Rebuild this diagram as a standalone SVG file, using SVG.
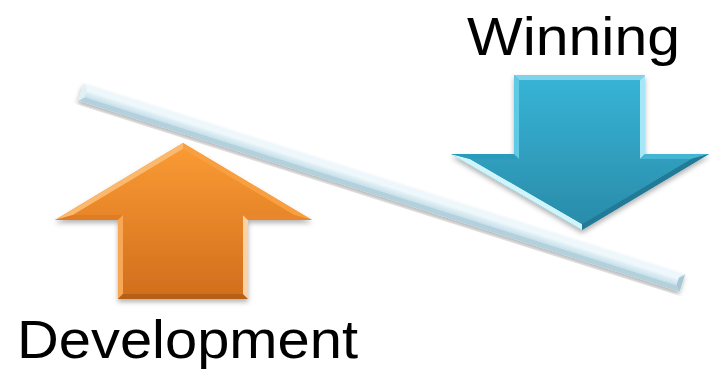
<svg xmlns="http://www.w3.org/2000/svg" width="714" height="371" viewBox="0 0 714 371">
  <defs>
    <filter id="shadow" x="-10%" y="-10%" width="120%" height="130%">
      <feDropShadow dx="0" dy="3" stdDeviation="2.5" flood-color="#000" flood-opacity="0.3"/>
    </filter>
    <linearGradient id="orangeFace" x1="0" y1="0" x2="0" y2="1">
      <stop offset="0" stop-color="#F99A33"/>
      <stop offset="1" stop-color="#D26F1E"/>
    </linearGradient>
    <linearGradient id="blueFace" x1="0" y1="0" x2="0" y2="1">
      <stop offset="0" stop-color="#37B3D5"/>
      <stop offset="1" stop-color="#2A8CAA"/>
    </linearGradient>
    <linearGradient id="barFace" x1="0" y1="0" x2="0" y2="1">
      <stop offset="0" stop-color="#F4FAFD"/>
      <stop offset="0.45" stop-color="#DCEDF4"/>
      <stop offset="1" stop-color="#C8E0EA"/>
    </linearGradient>
  </defs>
  <style>
    .label { font-family: "Liberation Sans", "Open Sans", sans-serif; font-size: 54px; fill: #000; }
  </style>

  <!-- seesaw beam -->
  <g id="beam" filter="url(#shadow)" transform="translate(81,92) rotate(17.63)">
    <rect x="0" y="-9" width="631" height="18" fill="#C9E0EA"/>
    <polygon points="0,-9 631,-9 626,-4 5,-4" fill="#EEF7FB"/>
    <polygon points="0,9 631,9 626,4 5,4" fill="#B3D0DD"/>
    <polygon points="0,-9 5,-4 5,4 0,9" fill="#E2F0F6"/>
    <polygon points="631,-9 626,-4 626,4 631,9" fill="#A8C7D5"/>
    <rect x="5" y="-4" width="621" height="8" fill="url(#barFace)"/>
  </g>

  <!-- up arrow -->
  <g id="arrow-development" filter="url(#shadow)">
    <polygon points="183,143 312,220 248,220 248,299 118,299 118,220 55,220" fill="url(#orangeFace)"/>
    <polygon points="55,220 183,143 183,149 73,215" fill="#FCB86C"/>
    <polygon points="183,143 312,220 294,215 183,149" fill="#F8A040"/>
    <polygon points="55,220 118,220 123,215 73,215" fill="#E27C24"/>
    <polygon points="118,220 118,299 123,294 123,215" fill="#F8A855"/>
    <polygon points="118,299 248,299 243,294 123,294" fill="#B65E18"/>
    <polygon points="248,299 248,220 243,215 243,294" fill="#FBD2A4"/>
    <polygon points="248,220 312,220 294,215 243,215" fill="#E9862D"/>
    <polygon points="183,149 294,215 243,215 243,294 123,294 123,215 73,215" fill="url(#orangeFace)"/>
  </g>

  <!-- down arrow -->
  <g id="arrow-winning" filter="url(#shadow)">
    <polygon points="514,75 645,75 645,154 709,154 582,230 451,154 514,154" fill="url(#blueFace)"/>
    <polygon points="514,75 645,75 640,80 519,80" fill="#7FD4EB"/>
    <polygon points="645,75 645,154 640,159 640,80" fill="#A6E7F7"/>
    <polygon points="645,154 709,154 691,159 640,159" fill="#45B5D4"/>
    <polygon points="709,154 582,230 582,224 691,159" fill="#237A96"/>
    <polygon points="582,230 451,154 470,159 582,224" fill="#CFF4FC"/>
    <polygon points="451,154 514,154 519,159 470,159" fill="#2C9BBB"/>
    <polygon points="514,154 514,75 519,80 519,159" fill="#5FCAE5"/>
    <polygon points="519,80 640,80 640,159 691,159 582,224 470,159 519,159" fill="url(#blueFace)"/>
  </g>

  <!-- labels -->
  <g id="label-winning">
    <text class="label" x="467" y="55" textLength="213" lengthAdjust="spacingAndGlyphs">Winning</text>
  </g>
  <g id="label-development">
    <text class="label" x="17" y="358" textLength="341" lengthAdjust="spacingAndGlyphs">Development</text>
  </g>
</svg>
